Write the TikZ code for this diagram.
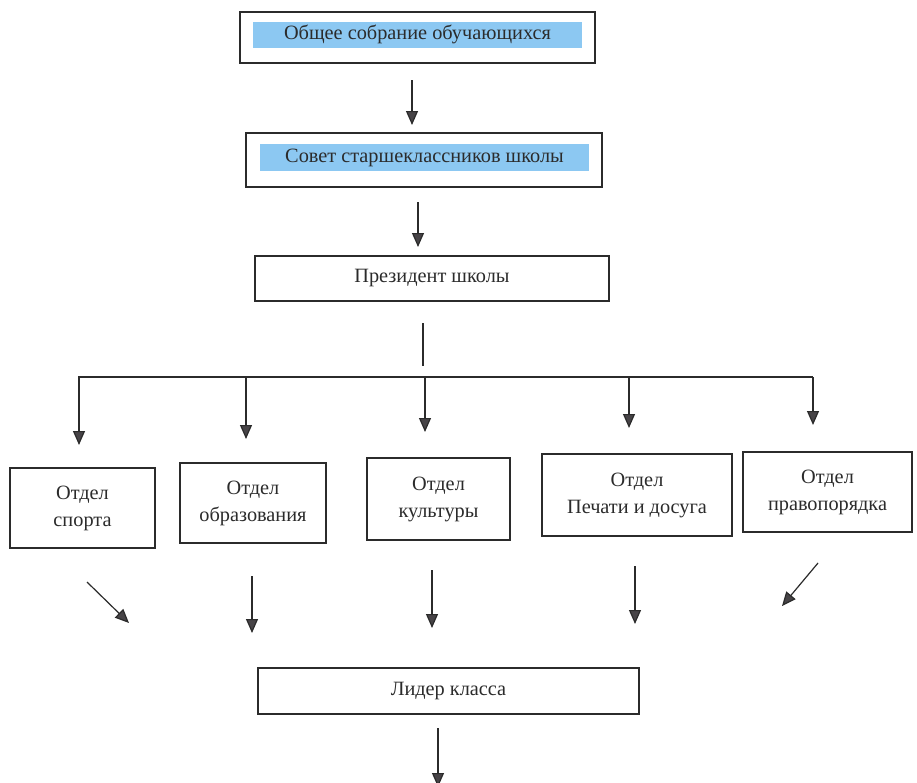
\documentclass[tikz,border=0pt]{standalone}
\usepackage{fontspec}
\setmainfont{Liberation Serif}
\usetikzlibrary{arrows.meta}
\definecolor{band}{HTML}{8CC8F2}
\definecolor{ink}{HTML}{2B2B2B}
\definecolor{headc}{HTML}{474447}
\begin{document}
\begin{tikzpicture}[x=1pt,y=-1pt,
  box/.style={draw=ink, line width=1.4pt, inner sep=0pt, align=center, text=ink,
    font=\fontsize{20.3}{27}\selectfont},
  bandbox/.style={fill=band, inner sep=0pt, align=center, text=ink,
    font=\fontsize{20.3}{27}\selectfont},
  arr/.style={draw=ink, line width=1.2pt,
    -{Triangle[length=14pt,width=12pt,fill=headc]}},
  ln/.style={draw=ink, line width=1.2pt}]
\useasboundingbox (0,0) rectangle (917,782);
\fill[white] (0,0) rectangle (917,782);

% top boxes
\node[box, minimum width=355pt, minimum height=51pt] (b1) at (417.5,37.5) {};
\node[bandbox, minimum width=329pt, minimum height=26pt] (t1) at (417.5,34.5) {Общее собрание обучающихся};
\node[box, minimum width=356pt, minimum height=54pt] (b2) at (424,160) {};
\node[bandbox, minimum width=329pt, minimum height=27pt] (t2) at (424.5,157.5) {Совет старшеклассников школы};
\node[box, minimum width=354pt, minimum height=45pt] (b3) at (432,278.5) {Президент школы};

% departments
\node[box, minimum width=145pt, minimum height=80pt] (d1) at (82.5,508) {Отдел\\спорта};
\node[box, minimum width=146pt, minimum height=80pt] (d2) at (253,503) {Отдел\\образования};
\node[box, minimum width=143pt, minimum height=82pt] (d3) at (438.5,499) {Отдел\\культуры};
\node[box, minimum width=190pt, minimum height=82pt] (d4) at (637,495) {Отдел\\Печати и досуга};
\node[box, minimum width=169pt, minimum height=80pt] (d5) at (827.5,492) {Отдел\\правопорядка};

% class leader
\node[box, minimum width=381pt, minimum height=46pt] (lk) at (448.5,691) {Лидер класса};

% coordinates for free arrows
\coordinate (a1s) at (412,80);  \coordinate (a1e) at (412,125);
\coordinate (a2s) at (418,202); \coordinate (a2e) at (418,247);
\coordinate (ps) at (423,323);  \coordinate (pe) at (423,366);
\coordinate (hl) at (78,377);   \coordinate (hr) at (813,377);
\coordinate (v1) at (79,377);   \coordinate (v1e) at (79,445);
\coordinate (v2) at (246,377);  \coordinate (v2e) at (246,439);
\coordinate (v3) at (425,377);  \coordinate (v3e) at (425,432);
\coordinate (v4) at (629,377);  \coordinate (v4e) at (629,428);
\coordinate (v5) at (813,377);  \coordinate (v5e) at (813,425);
\coordinate (u1s) at (87,582);  \coordinate (u1e) at (129,623);
\coordinate (u2s) at (252,576); \coordinate (u2e) at (252,633);
\coordinate (u3s) at (432,570); \coordinate (u3e) at (432,628);
\coordinate (u4s) at (635,566); \coordinate (u4e) at (635,624);
\coordinate (u5s) at (818,563); \coordinate (u5e) at (782,606);
\coordinate (l1s) at (438,728); \coordinate (l1e) at (438,787);

\draw[arr] (a1s) -- (a1e);
\draw[arr] (a2s) -- (a2e);
\draw[ln] (ps) -- (pe);
\draw[ln] (hl) -- (hr);
\draw[arr] (v1) -- (v1e);
\draw[arr] (v2) -- (v2e);
\draw[arr] (v3) -- (v3e);
\draw[arr] (v4) -- (v4e);
\draw[arr] (v5) -- (v5e);
\draw[arr] (u1s) -- (u1e);
\draw[arr] (u2s) -- (u2e);
\draw[arr] (u3s) -- (u3e);
\draw[arr] (u4s) -- (u4e);
\draw[arr] (u5s) -- (u5e);
\draw[arr] (l1s) -- (l1e);
\end{tikzpicture}
\end{document}
